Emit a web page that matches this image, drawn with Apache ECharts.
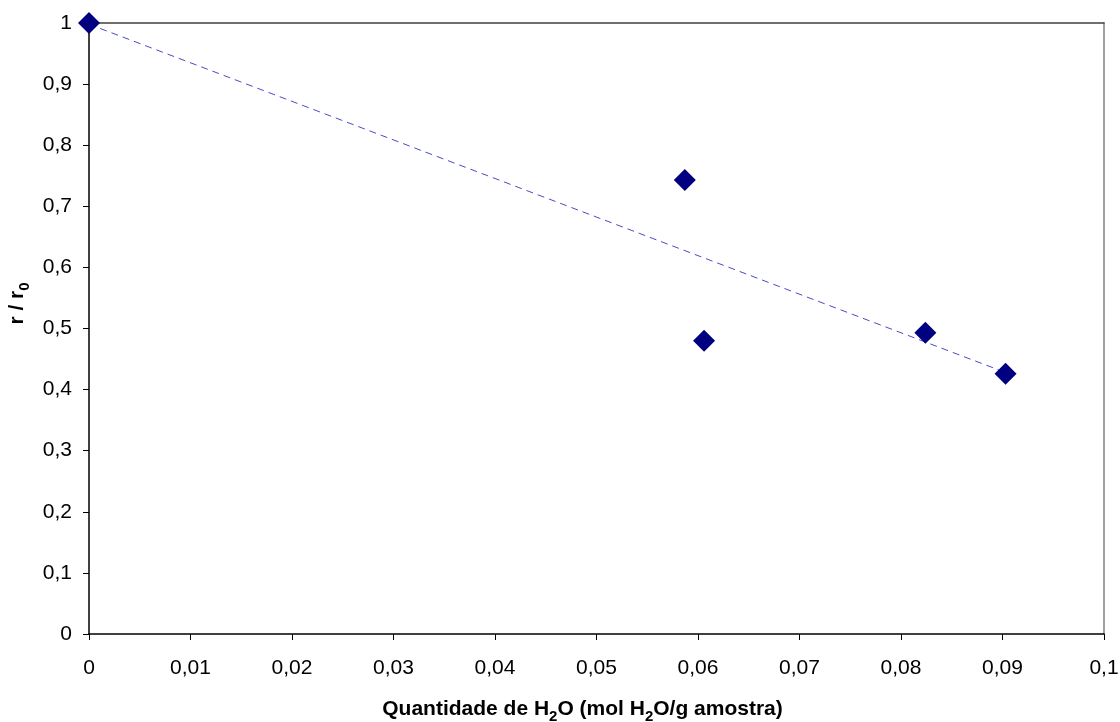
<!DOCTYPE html>
<html>
<head>
<meta charset="utf-8">
<script src="https://cdn.jsdelivr.net/npm/echarts@6/dist/echarts.min.js"></script>
<style>
html,body{margin:0;padding:0;background:#fff;}
#chart{width:1120px;height:722px;}
</style>
</head>
<body>
<div id="chart"></div>
<script>
// Data
const waterAmount = [0, 0.0587, 0.0606, 0.0824, 0.0903];   // mol H2O / g amostra
const rateRatio   = [1.0, 0.743, 0.480, 0.493, 0.426];      // r / r0
// Dashed linear trendline endpoints (as drawn in the reference)
const trendX = [0, 0.0903];
const trendY = [0.998, 0.428];
const xTicks = [0, 0.01, 0.02, 0.03, 0.04, 0.05, 0.06, 0.07, 0.08, 0.09, 0.1];
const yTicks = [0, 0.1, 0.2, 0.3, 0.4, 0.5, 0.6, 0.7, 0.8, 0.9, 1];

const fmt = v => String(+v.toFixed(4)).replace('.', ',');
const FONT = '"Liberation Sans", Arial, sans-serif';

const points = waterAmount.map((x, i) => [x, rateRatio[i]]);
const trend = trendX.map((x, i) => [x, trendY[i]]);

const chart = echarts.init(document.getElementById('chart'), null, {renderer: 'canvas'});
chart.setOption({
  backgroundColor: '#fff',
  animation: false,
  grid: {left: 89, top: 23, right: 16, bottom: 88, containLabel: false, outerBoundsMode: 'none', show: false},
  xAxis: [{
    type: 'value', min: xTicks[0], max: xTicks[xTicks.length - 1], interval: 0.01,
    position: 'bottom',
    splitLine: {show: false},
    axisLine: {show: true, onZero: false, lineStyle: {color: '#000', width: 1.5}},
    axisTick: {show: true, inside: false, length: 6, lineStyle: {color: '#000', width: 1}},
    axisLabel: {margin: 24, fontSize: 21, color: '#000', fontFamily: FONT, formatter: fmt},
    name: '{b|Quantidade de H}{s|2}{b|O (mol H}{s|2}{b|O/g amostra)}',
    nameLocation: 'middle', nameGap: 62,
    nameTextStyle: {
      padding: [0, 28, 0, 0],
      rich: {
        b: {fontSize: 21, fontWeight: 'bold', fontFamily: FONT, color: '#000', verticalAlign: 'bottom', lineHeight: 24},
        s: {fontSize: 15, fontWeight: 'bold', fontFamily: FONT, color: '#000', verticalAlign: 'bottom', lineHeight: 24, padding: [0, 0, -4, 0]}
      }
    }
  }, {
    type: 'value', min: 0, max: 0.1, position: 'top',
    axisLine: {show: true, onZero: false, lineStyle: {color: '#404040', width: 1.5}},
    axisTick: {show: false}, axisLabel: {show: false}, splitLine: {show: false}
  }],
  yAxis: [{
    type: 'value', min: yTicks[0], max: yTicks[yTicks.length - 1], interval: 0.1,
    position: 'left',
    splitLine: {show: false},
    axisLine: {show: true, onZero: false, lineStyle: {color: '#000', width: 1.5}},
    axisTick: {show: true, inside: false, length: 6, lineStyle: {color: '#000', width: 1}},
    axisLabel: {margin: 17, fontSize: 21, color: '#000', fontFamily: FONT, formatter: fmt},
    name: '{b|r / r}{s|0}',
    nameLocation: 'middle', nameGap: 58, nameRotate: 90,
    nameTextStyle: {
      padding: [0, 0, 0, 50],
      rich: {
        b: {fontSize: 21, fontWeight: 'bold', fontFamily: FONT, color: '#000', verticalAlign: 'bottom', lineHeight: 24},
        s: {fontSize: 15, fontWeight: 'bold', fontFamily: FONT, color: '#000', verticalAlign: 'bottom', lineHeight: 24, padding: [0, 0, -4, 0]}
      }
    }
  }, {
    type: 'value', min: 0, max: 1, position: 'right',
    axisLine: {show: true, onZero: false, lineStyle: {color: '#808080', width: 1.5}},
    axisTick: {show: false}, axisLabel: {show: false}, splitLine: {show: false}
  }],
  series: [{
    type: 'line',
    data: trend,
    xAxisIndex: 0, yAxisIndex: 0,
    symbol: 'none',
    lineStyle: {color: '#4b4bc4', width: 1, type: [7, 5]},
    z: 3, silent: true
  }, {
    type: 'scatter',
    data: points,
    xAxisIndex: 0, yAxisIndex: 0,
    symbol: 'diamond',
    symbolSize: [22, 22],
    itemStyle: {color: '#000080', opacity: 1},
    clip: false,
    z: 5
  }]
});
</script>
</body>
</html>
